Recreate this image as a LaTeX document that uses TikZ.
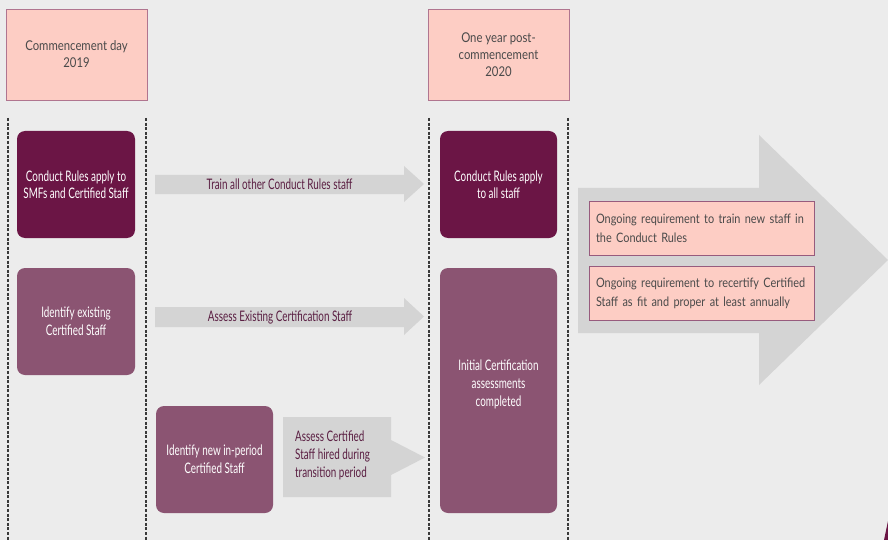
\documentclass[tikz,border=0pt]{standalone}
\usepackage{fontspec}
\setmainfont{Lato}
\newfontfamily\plainfont[FakeStretch=0.84]{Lato}
\newfontfamily\condfont[FakeStretch=0.68]{Lato}
\usetikzlibrary{positioning}
\definecolor{bgcol}{HTML}{ECECEC}
\definecolor{pinkfill}{HTML}{FDCDC4}
\definecolor{pinkedge}{HTML}{B0758F}
\definecolor{plumdark}{HTML}{6B1545}
\definecolor{plumlight}{HTML}{8B5472}
\definecolor{arrowgrey}{HTML}{D4D4D4}
\definecolor{greytext}{HTML}{4A4A4A}
\definecolor{labeltext}{HTML}{5A1E42}
\definecolor{dashcol}{HTML}{3A3A3A}
\tikzset{
  x=1pt, y=-1pt,
  datebox/.style={draw=pinkedge, line width=0.9pt, fill=pinkfill, text=greytext,
    font=\plainfont\fontsize{13.5}{17}\selectfont, align=center, inner sep=0pt},
  darkstep/.style={fill=plumdark, rounded corners=8pt, text=white,
    font=\condfont\fontsize{14.5}{17.5}\selectfont, align=center, inner sep=0pt},
  lightstep/.style={fill=plumlight, rounded corners=8pt, text=white,
    font=\condfont\fontsize{14.5}{18}\selectfont, align=center, inner sep=0pt},
  flowlabel/.style={text=labeltext, font=\condfont\fontsize{14.5}{18}\selectfont, inner sep=0pt},
  blockarrow/.style={fill=arrowgrey},
  noteline/.style={draw=plumdark!70, line width=0.8pt, fill=pinkfill, text=greytext,
    font=\plainfont\fontsize{13}{19}\selectfont, align=left, inner sep=0pt},
  timeline/.style={draw=dashcol, line width=1.1pt, dash pattern=on 3pt off 1.6pt}
}
\begin{document}
\begin{tikzpicture}
% canvas
\fill[bgcol] (0,0) rectangle (888,540);
\useasboundingbox (0,0) rectangle (888,540);

% milestone headers
\node[datebox, minimum width=141pt, minimum height=91pt] (start) at (76.5,54.5)
  {Commencement day\\2019};
\node[datebox, minimum width=141pt, minimum height=91pt] (oneyear) at (498.5,54.5)
  {One year post-\\commencement\\2020};

% dashed column guides
\coordinate (g1t) at (8,118);   \coordinate (g1b) at (8,540);
\coordinate (g2t) at (146,118); \coordinate (g2b) at (146,540);
\coordinate (g3t) at (429,118); \coordinate (g3b) at (429,540);
\coordinate (g4t) at (568,118); \coordinate (g4b) at (568,540);
\draw[timeline] (g1t) -- (g1b);
\draw[timeline] (g2t) -- (g2b);
\draw[timeline] (g3t) -- (g3b);
\draw[timeline] (g4t) -- (g4b);

% big ongoing arrow
\fill[blockarrow] (578,188) -- (759,188) -- (759,135) -- (888,260)
  -- (759,385) -- (759,333) -- (578,333) -- cycle;

% horizontal block arrows
\fill[blockarrow] (155,175) -- (404,175) -- (404,166) -- (424,184)
  -- (404,202) -- (404,194) -- (155,194) -- cycle;
\fill[blockarrow] (155,307) -- (404,307) -- (404,298) -- (424,316.5)
  -- (404,335) -- (404,327) -- (155,327) -- cycle;
\fill[blockarrow] (283,417) -- (391,417) -- (391,440) -- (425,457.5)
  -- (391,475) -- (391,497) -- (283,497) -- cycle;

% step boxes, commencement column
\node[darkstep, minimum width=118pt, minimum height=107pt] (crsmf) at (76,184.5)
  {Conduct Rules apply to\\SMFs and Certified Staff};
\node[lightstep, minimum width=118pt, minimum height=107pt] (idexist) at (76,321.5)
  {Identify existing\\Certified Staff};
\node[lightstep, minimum width=117pt, minimum height=107pt] (idnew) at (214.5,459.5)
  {Identify new in-period\\Certified Staff};

% step boxes, one-year column
\node[darkstep, minimum width=117pt, minimum height=107pt] (crall) at (498.5,184.5)
  {Conduct Rules apply\\to all staff};
\node[lightstep, minimum width=117pt, minimum height=245pt] (initial) at (498.5,390.5) {};
\node[text=white, font=\condfont\fontsize{14.5}{18}\selectfont, align=center, inner sep=0pt]
  (initialtxt) at (498.5,384.5) {Initial Certification\\assessments\\completed};

% arrow labels
\node[flowlabel] (ltrain) at (279.5,184.5) {Train all other Conduct Rules staff};
\node[flowlabel] (lassess) at (280,317) {Assess Existing Certification Staff};
\node[flowlabel, align=left, anchor=west] (lhired) at (295,455.5)
  {Assess Certified\\Staff hired during\\transition period};

% ongoing requirements
\node[noteline, minimum width=225pt, minimum height=54pt, text width=211pt] (ntrain) at (701.5,228)
  {Ongoing requirement to train new staff in\\the Conduct Rules};
\node[noteline, minimum width=225pt, minimum height=54pt, text width=211pt] (nrecert) at (701.5,293)
  {Ongoing requirement to recertify Certified\\Staff as fit and proper at least annually};

% corner mark
\fill[plumdark] (884,540) -- (888,521) -- (888,540) -- cycle;
\end{tikzpicture}
\end{document}
